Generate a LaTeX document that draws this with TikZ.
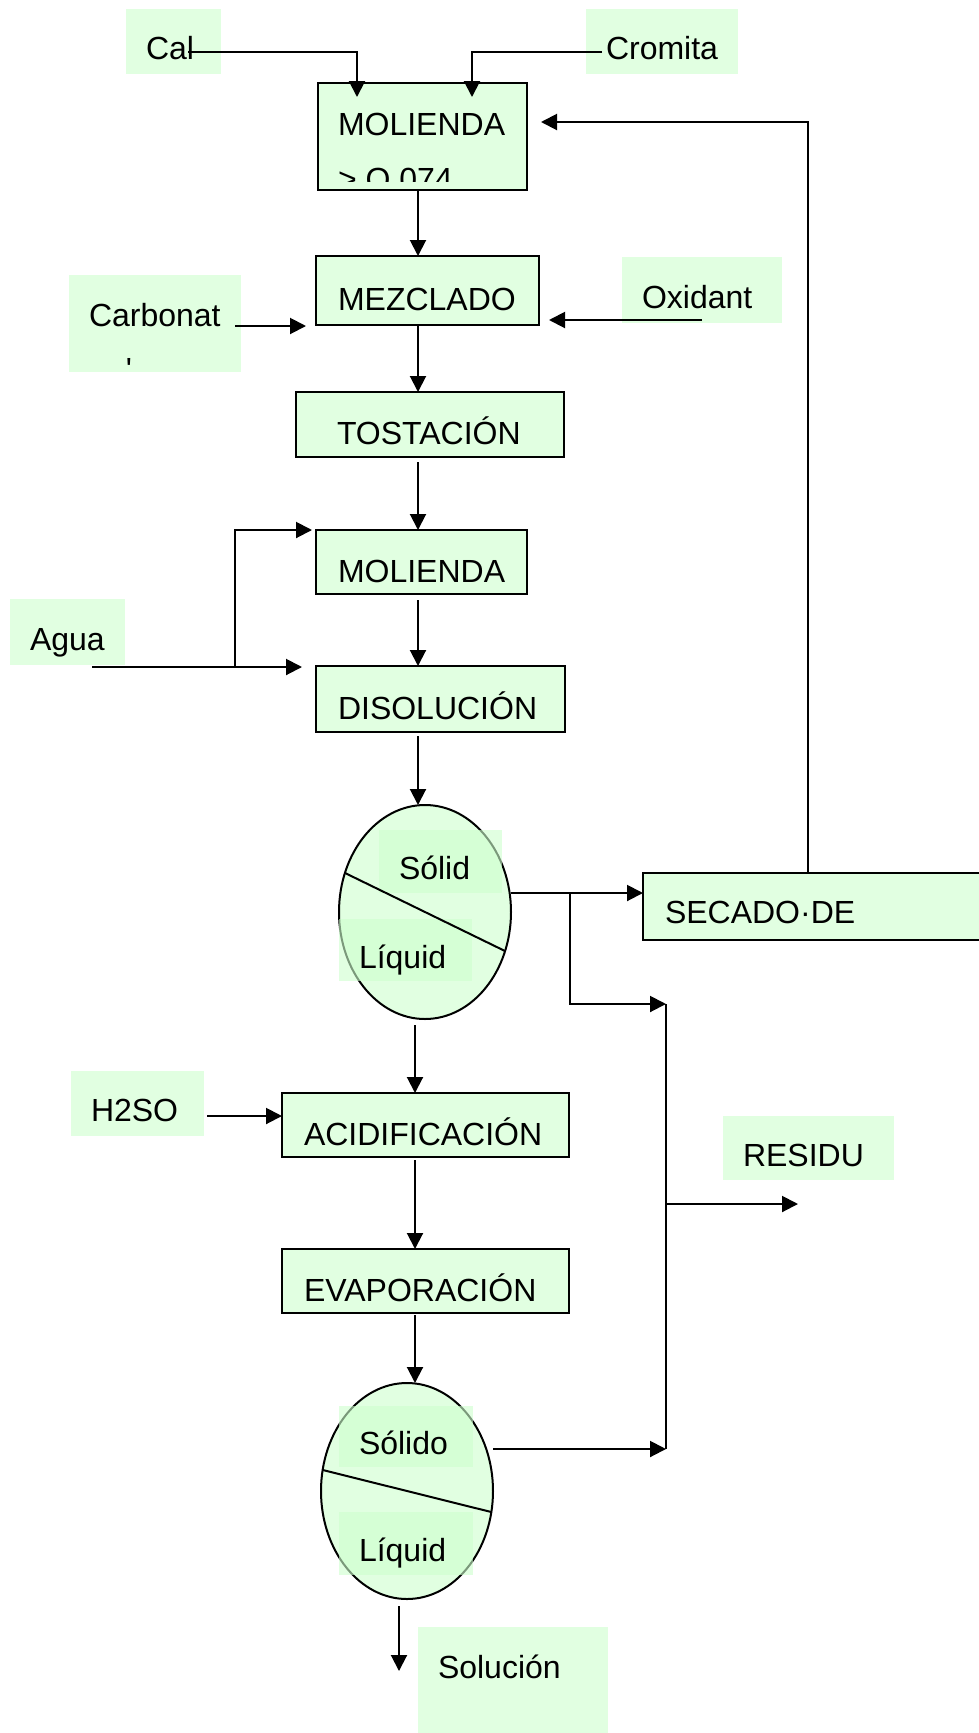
\documentclass[tikz,border=0pt]{standalone}
\usepackage{fontspec}
\setmainfont{Liberation Sans}
\usepackage{tikz}
\usetikzlibrary{arrows.meta,positioning,shapes.geometric}
\definecolor{boxgreen}{RGB}{225,255,225}
\definecolor{lblgreen}{RGB}{205,255,205}

\begin{document}
\begin{tikzpicture}[
    x=1pt, y=-1pt,
    line width=2pt,
    every node/.style={font=\fontsize{32pt}{38pt}\selectfont, outer sep=0pt},
    box/.style={rectangle, draw, fill=boxgreen, anchor=north west, inner xsep=22pt, inner ysep=0pt, align=left, text height=40pt, text depth=0pt},
    lbl/.style={rectangle, fill=lblgreen, fill opacity=0.6, text opacity=1, anchor=north west, inner xsep=20pt, inner ysep=0pt, align=left, text height=36pt, text depth=0pt},
    splitter/.style={ellipse, draw, fill=boxgreen, inner sep=0pt},
    arrow/.style={-{Triangle[length=16pt,width=16pt]}}
]
    \useasboundingbox (0,0) rectangle (979,1733);

    % process column
    \node[box, inner xsep=20pt, text width=169pt, minimum height=107pt, text height=22pt, text depth=25pt] (mol1) at (318,83) {MOLIENDA};
    \begin{scope}
        \clip (mol1.north west) rectangle ([yshift=9pt]mol1.south east);
        \node[anchor=base west, inner sep=0pt] (mol1sub) at (338,190) {> O.074};
    \end{scope}
    \node[box, text width=179pt, minimum height=69pt] (mez) at (316,256) {MEZCLADO};
    \node[box, inner xsep=41pt, text width=186pt, minimum height=65pt] (tos) at (296,392) {TOSTACIÓN};
    \node[box, text width=167pt, minimum height=64pt] (mol2) at (316,530) {MOLIENDA};
    \node[box, text width=205pt, minimum height=66pt] (dis) at (316,666) {DISOLUCIÓN};
    \node[splitter, minimum width=172pt, minimum height=214pt] (ell1) at (425,912) {};
    \node[box, text width=243pt, minimum height=64pt] (acid) at (282,1093) {ACIDIFICACIÓN};
    \node[box, text width=243pt, minimum height=64pt] (evap) at (282,1249) {EVAPORACIÓN};
    \node[splitter, minimum width=172pt, minimum height=216pt] (ell2) at (407,1491) {};
    \node[box, text width=326pt, minimum height=67pt, text height=33pt] (secado) at (643,873) {SECADO·DE};

    % inputs and outputs
    \node[lbl, text width=55pt, minimum height=65pt] (cal) at (126,9) {Cal};
    \node[lbl, text width=112pt, minimum height=65pt] (cromita) at (586,9) {Cromita};
    \node[lbl, text width=132pt, minimum height=97pt, text height=22pt, text depth=17pt] (carb) at (69,275) {Carbonat};
    \node[anchor=base, inner sep=0pt] (carbtick) at (129,380) {\textquotesingle};
    \node[lbl, text width=120pt, minimum height=66pt] (oxi) at (622,257) {Oxidant};
    \node[lbl, text width=75pt, minimum height=66pt] (agua) at (10,599) {Agua};
    \node[lbl, text width=83pt, minimum height=63pt] (sol1) at (379,830) {Sólid};
    \node[lbl, text width=93pt, minimum height=62pt] (liq1) at (339,919) {Líquid};
    \node[lbl, text width=93pt, minimum height=65pt] (h2so) at (71,1071) {H2SO};
    \node[lbl, text width=131pt, minimum height=64pt] (residu) at (723,1116) {RESIDU};
    \node[lbl, text width=94pt, minimum height=61pt] (sol2) at (339,1406) {Sólido};
    \node[lbl, text width=94pt, minimum height=63pt] (liq2) at (339,1512) {Líquid};
    \node[lbl, text width=150pt, minimum height=106pt, text height=22pt, text depth=26pt] (solucion) at (418,1627) {Solución};

    \draw (ell1.154) -- (ell1.-26);
    \draw (ell2.166) -- (ell2.-14);

    \coordinate (axisA) at (418,0);
    \coordinate (axisB) at (415,0);
    \coordinate (axisC) at (399,0);
    \coordinate (wsplit) at (235,667);
    \coordinate (ssplit) at (570,893);
    \coordinate (rtop) at (666,1004);
    \coordinate (rmid) at (666,1204);
    \coordinate (rbot) at (666,1449);
    \coordinate (solend) at (399,1671);

    \draw[arrow] ([xshift=-33pt,yshift=-10.5pt]cal.east) -| ([xshift=39pt,yshift=-14pt]mol1.north west);
    \draw[arrow] ([xshift=16pt,yshift=-10.5pt]cromita.west) -| ([xshift=-55pt,yshift=-14pt]mol1.north east);
    \draw[arrow] ([xshift=165pt]secado.north west) |- ([xshift=14pt,yshift=14.5pt]mol1.east);
    \draw[arrow] (mol1.south -| axisA) -- (mez.north -| axisA);
    \draw[arrow] ([xshift=-6pt,yshift=-2.5pt]carb.east) -- ([xshift=-10pt,yshift=-1pt]mez.south west);
    \draw[arrow] ([xshift=80pt,yshift=3pt]oxi.south west) -- ([xshift=10pt,yshift=5pt]mez.south east);
    \draw[arrow] (mez.south -| axisA) -- (tos.north -| axisA);
    \draw[arrow, shorten <=5pt] (tos.south -| axisA) -- (mol2.north -| axisA);
    \draw[arrow, shorten <=6pt] (mol2.south -| axisA) -- (dis.north -| axisA);
    \draw[arrow] ([xshift=82pt,yshift=-2pt]agua.south west) -- ([xshift=-14pt,yshift=-1pt]dis.north west);
    \draw[arrow] (wsplit) |- ([xshift=-4pt]mol2.north west);
    \draw[arrow, shorten <=4pt] (dis.south -| axisA) -- (ell1.north -| axisA);
    \draw[arrow] ([yshift=19pt]ell1.east) -- ([yshift=-20pt]secado.north west);
    \draw[arrow] (ssplit) |- (rtop);
    \draw (rtop) -- (rbot);
    \draw[arrow] (rmid) -- ([xshift=75pt,yshift=-24pt]residu.south west);
    \draw[arrow, shorten <=6pt] (ell1.south -| axisB) -- (acid.north -| axisB);
    \draw[arrow] ([xshift=3pt,yshift=-12.5pt]h2so.east) -- ([yshift=-23pt]acid.north west);
    \draw[arrow, shorten <=3pt] (acid.south -| axisB) -- (evap.north -| axisB);
    \draw[arrow, shorten <=2pt] (evap.south -| axisB) -- (ell2.north -| axisB);
    \draw[arrow] ([yshift=42pt]ell2.east) -- (rbot);
    \draw[arrow, shorten <=7pt] (ell2.south -| axisC) -- (solend);
\end{tikzpicture}
\end{document}
